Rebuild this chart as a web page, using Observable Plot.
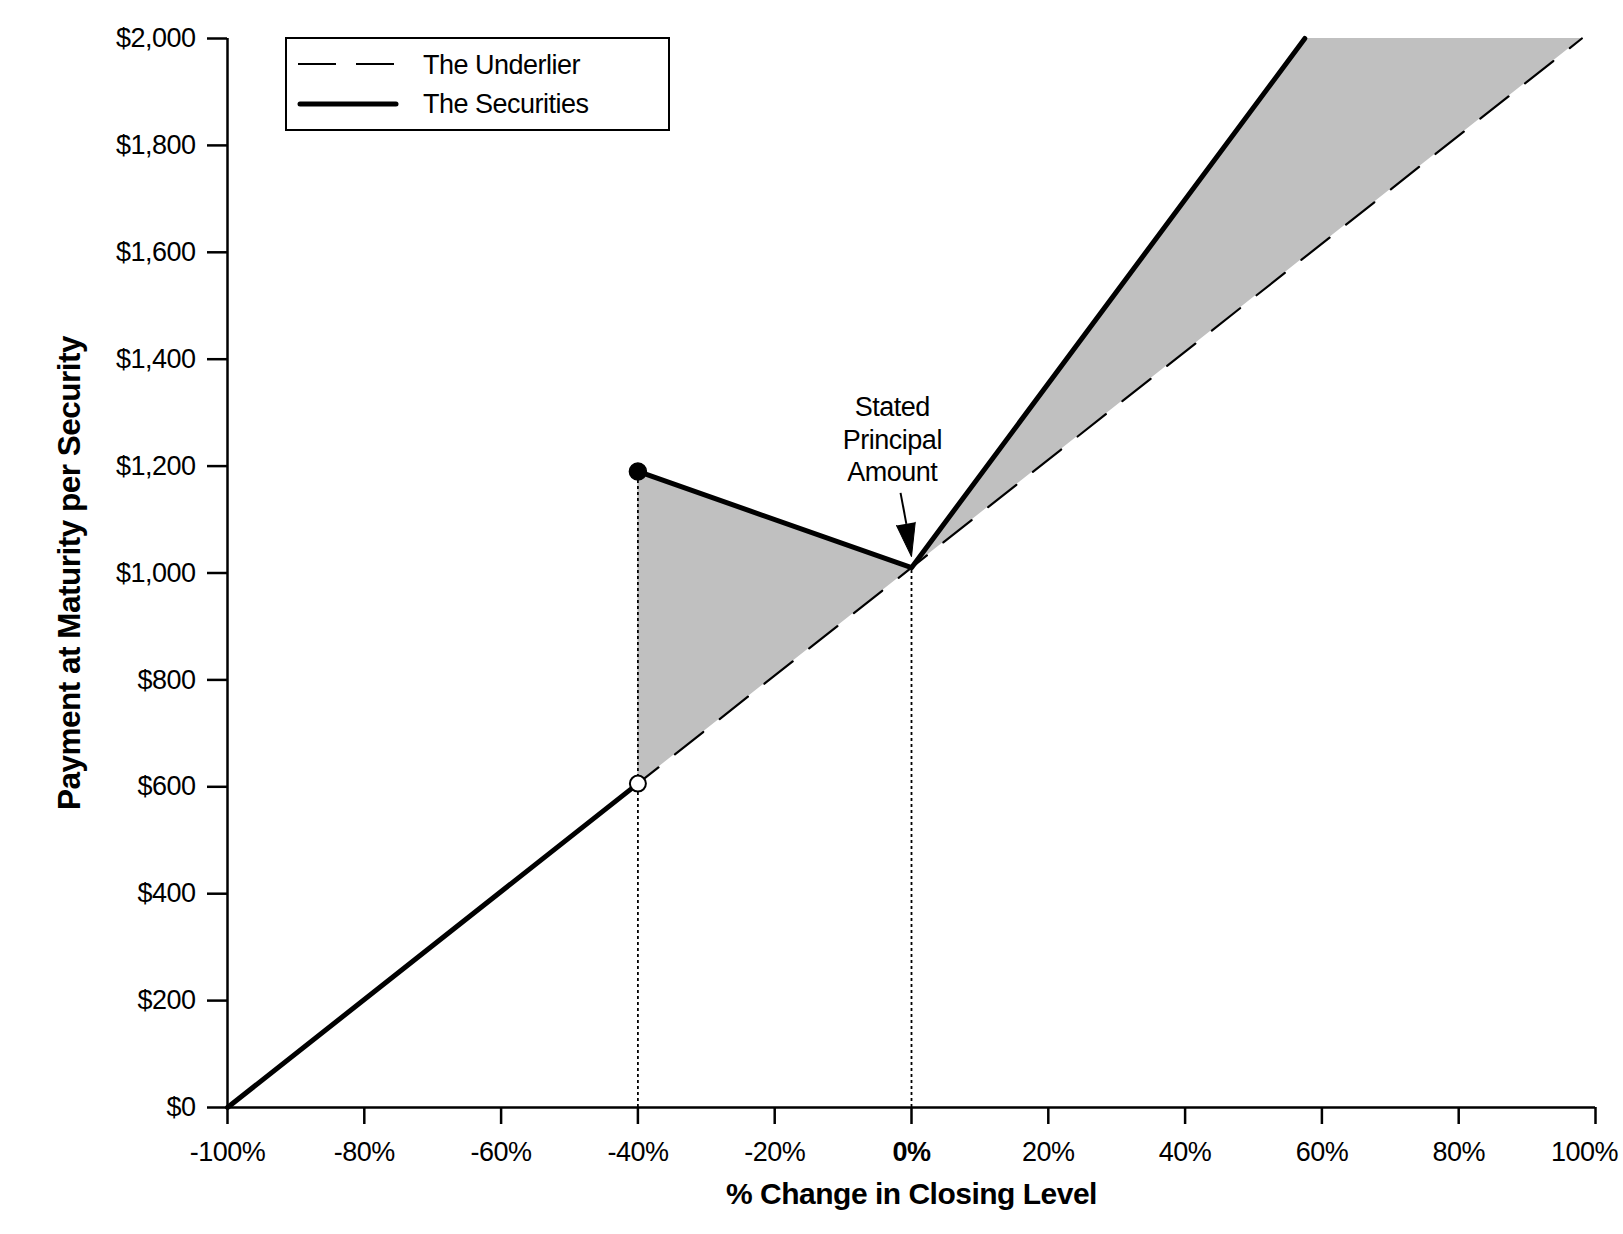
<!DOCTYPE html>
<html><head><meta charset="utf-8">
<script src="https://cdn.jsdelivr.net/npm/d3@7"></script>
<script src="https://cdn.jsdelivr.net/npm/@observablehq/plot@0.6"></script>
<style>
body{margin:0;background:#fff;}
#wrap{position:relative;width:1623px;height:1234px;font-family:"Liberation Sans",Arial,sans-serif;}
#legend{position:absolute;left:285px;top:37px;}
</style></head><body><div id="wrap"></div>
<script>
// ---- data ----
const xTicks = [-100, -80, -60, -40, -20, 0, 20, 40, 60, 80, 100];
const yTicks = [0, 200, 400, 600, 800, 1000, 1200, 1400, 1600, 1800, 2000];
const underlierX = [-100, 98];
const underlierY = [0, 2000];
const securitiesSeg = ["below", "below", "above", "above", "above"];
const securitiesX = [-100, -40, -40, 0, 57.5];
const securitiesY = [0, 606, 1190, 1010, 2000];
const shadeX = [-40, 0, 57.5, 98];
const shadeLow = [606, 1010, 1591, 2000];
const shadeHigh = [1190, 1010, 2000, 2000];
const guideX = [-40, 0];
const guideTop = [1190, 1010];
const filledDot = {x: -40, y: 1190};
const openDot = {x: -40, y: 606};
const noteText = "Stated\nPrincipal\nAmount";
const notePos = {x: -2.8, y: 1252};
const arrowTail = {x: -1.6, y: 1150};
const arrowBase = {x: -0.75, y: 1092};
const arrowTip = {x: 0, y: 1031};
const xTitle = "% Change in Closing Level";
const yTitle = "Payment at Maturity per Security";
const legendLabels = ["The Underlier", "The Securities"];

// ---- tables built from arrays ----
const underlier = underlierX.map((x, i) => ({x, y: underlierY[i]}));
const securities = securitiesX.map((x, i) => ({x, y: securitiesY[i], seg: securitiesSeg[i]}));
const shade = shadeX.map((x, i) => ({x, y1: shadeLow[i], y2: shadeHigh[i]}));
const guides = guideX.map((x, i) => ({x, y1: 0, y2: guideTop[i]}));

const FONT = "Liberation Sans, Arial, sans-serif";
const fmtPct = d => `${d}%`;
const lastX = xTicks[xTicks.length - 1];

const chart = Plot.plot({
  width: 1623,
  height: 1234,
  marginLeft: 227,
  marginRight: 28,
  marginTop: 38,
  marginBottom: 127,
  style: {fontFamily: FONT, fontSize: "27px", color: "black", background: "white", letterSpacing: "-0.5px"},
  x: {domain: [-100, 100]},
  y: {domain: [0, 2000]},
  marks: [
    Plot.areaY(shade, {x: "x", y1: "y1", y2: "y2", fill: "#c0c0c0"}),
    Plot.ruleX(guides, {x: "x", y1: "y1", y2: "y2", stroke: "black", strokeWidth: 1.8, strokeDasharray: "3,3"}),
    Plot.line(underlier, {x: "x", y: "y", stroke: "black", strokeWidth: 2.2, strokeDasharray: "36,21"}),
    Plot.line(securities, {x: "x", y: "y", z: "seg", stroke: "black", strokeWidth: 5, strokeLinecap: "round", strokeLinejoin: "round"}),
    Plot.dot([filledDot], {x: "x", y: "y", r: 8.5, fill: "black", stroke: "black"}),
    Plot.dot([openDot], {x: "x", y: "y", r: 8, fill: "white", stroke: "black", strokeWidth: 2}),
    // axes
    Plot.ruleY([0], {x1: -100, x2: 100, stroke: "black", strokeWidth: 2.5}),
    Plot.ruleX([-100], {y1: 0, y2: 2000, stroke: "black", strokeWidth: 2.5}),
    Plot.axisX({ticks: xTicks, tickSize: 17, tickPadding: 17, strokeWidth: 2.5, tickFormat: d => (d === 0 || d === lastX) ? "" : fmtPct(d), label: null}),
    Plot.text(xTicks.filter(d => d === 0), {x: d => d, frameAnchor: "bottom", dy: 34, lineAnchor: "top", text: fmtPct, fontWeight: "bold"}),
    Plot.text(xTicks.filter(d => d === lastX), {x: d => d, frameAnchor: "bottom", dy: 34, dx: -11, lineAnchor: "top", text: fmtPct}),
    Plot.axisY({ticks: yTicks, tickSize: 20, tickPadding: 12, strokeWidth: 2.5, tickFormat: d3.format("$,"), label: null}),
    // titles
    Plot.text([xTitle], {frameAnchor: "bottom", dy: 87, lineAnchor: "middle", textAnchor: "middle", text: d => d, fontWeight: "bold", fontSize: 30, letterSpacing: "0px"}),
    Plot.text([yTitle], {frameAnchor: "left", dx: -158, rotate: -90, lineAnchor: "middle", textAnchor: "middle", text: d => d, fontWeight: "bold", fontSize: 31.5, letterSpacing: "-0.3px"}),
    // annotation
    Plot.text([notePos], {x: "x", y: "y", text: () => noteText, lineHeight: 1.2, textAnchor: "middle"}),
    Plot.link([{a: arrowTail, b: arrowBase}], {x1: d => d.a.x, y1: d => d.a.y, x2: d => d.b.x, y2: d => d.b.y, stroke: "black", strokeWidth: 2}),
    Plot.vector([arrowTip], {x: "x", y: "y", shape: "spike", anchor: "end", length: 33, r: 9.5, rotate: 170.2, fill: "black", stroke: "black", strokeWidth: 1})
  ]
});

const wrap = document.getElementById("wrap");
wrap.appendChild(chart);

// legend
const ns = "http://www.w3.org/2000/svg";
const leg = document.createElementNS(ns, "svg");
leg.setAttribute("id", "legend");
leg.setAttribute("width", 386);
leg.setAttribute("height", 95);
leg.innerHTML = `
  <rect x="1" y="1" width="383" height="92" fill="white" stroke="black" stroke-width="2"/>
  <line x1="13" x2="111" y1="27" y2="27" stroke="black" stroke-width="2" stroke-dasharray="38,20"/>
  <line x1="15" x2="111" y1="67" y2="67" stroke="black" stroke-width="5" stroke-linecap="round"/>
  <text x="138" y="30" dominant-baseline="middle" font-family="${FONT}" font-size="27" letter-spacing="-0.5">${legendLabels[0]}</text>
  <text x="138" y="69" dominant-baseline="middle" font-family="${FONT}" font-size="27" letter-spacing="-0.5">${legendLabels[1]}</text>`;
wrap.appendChild(leg);
</script>
</body></html>
